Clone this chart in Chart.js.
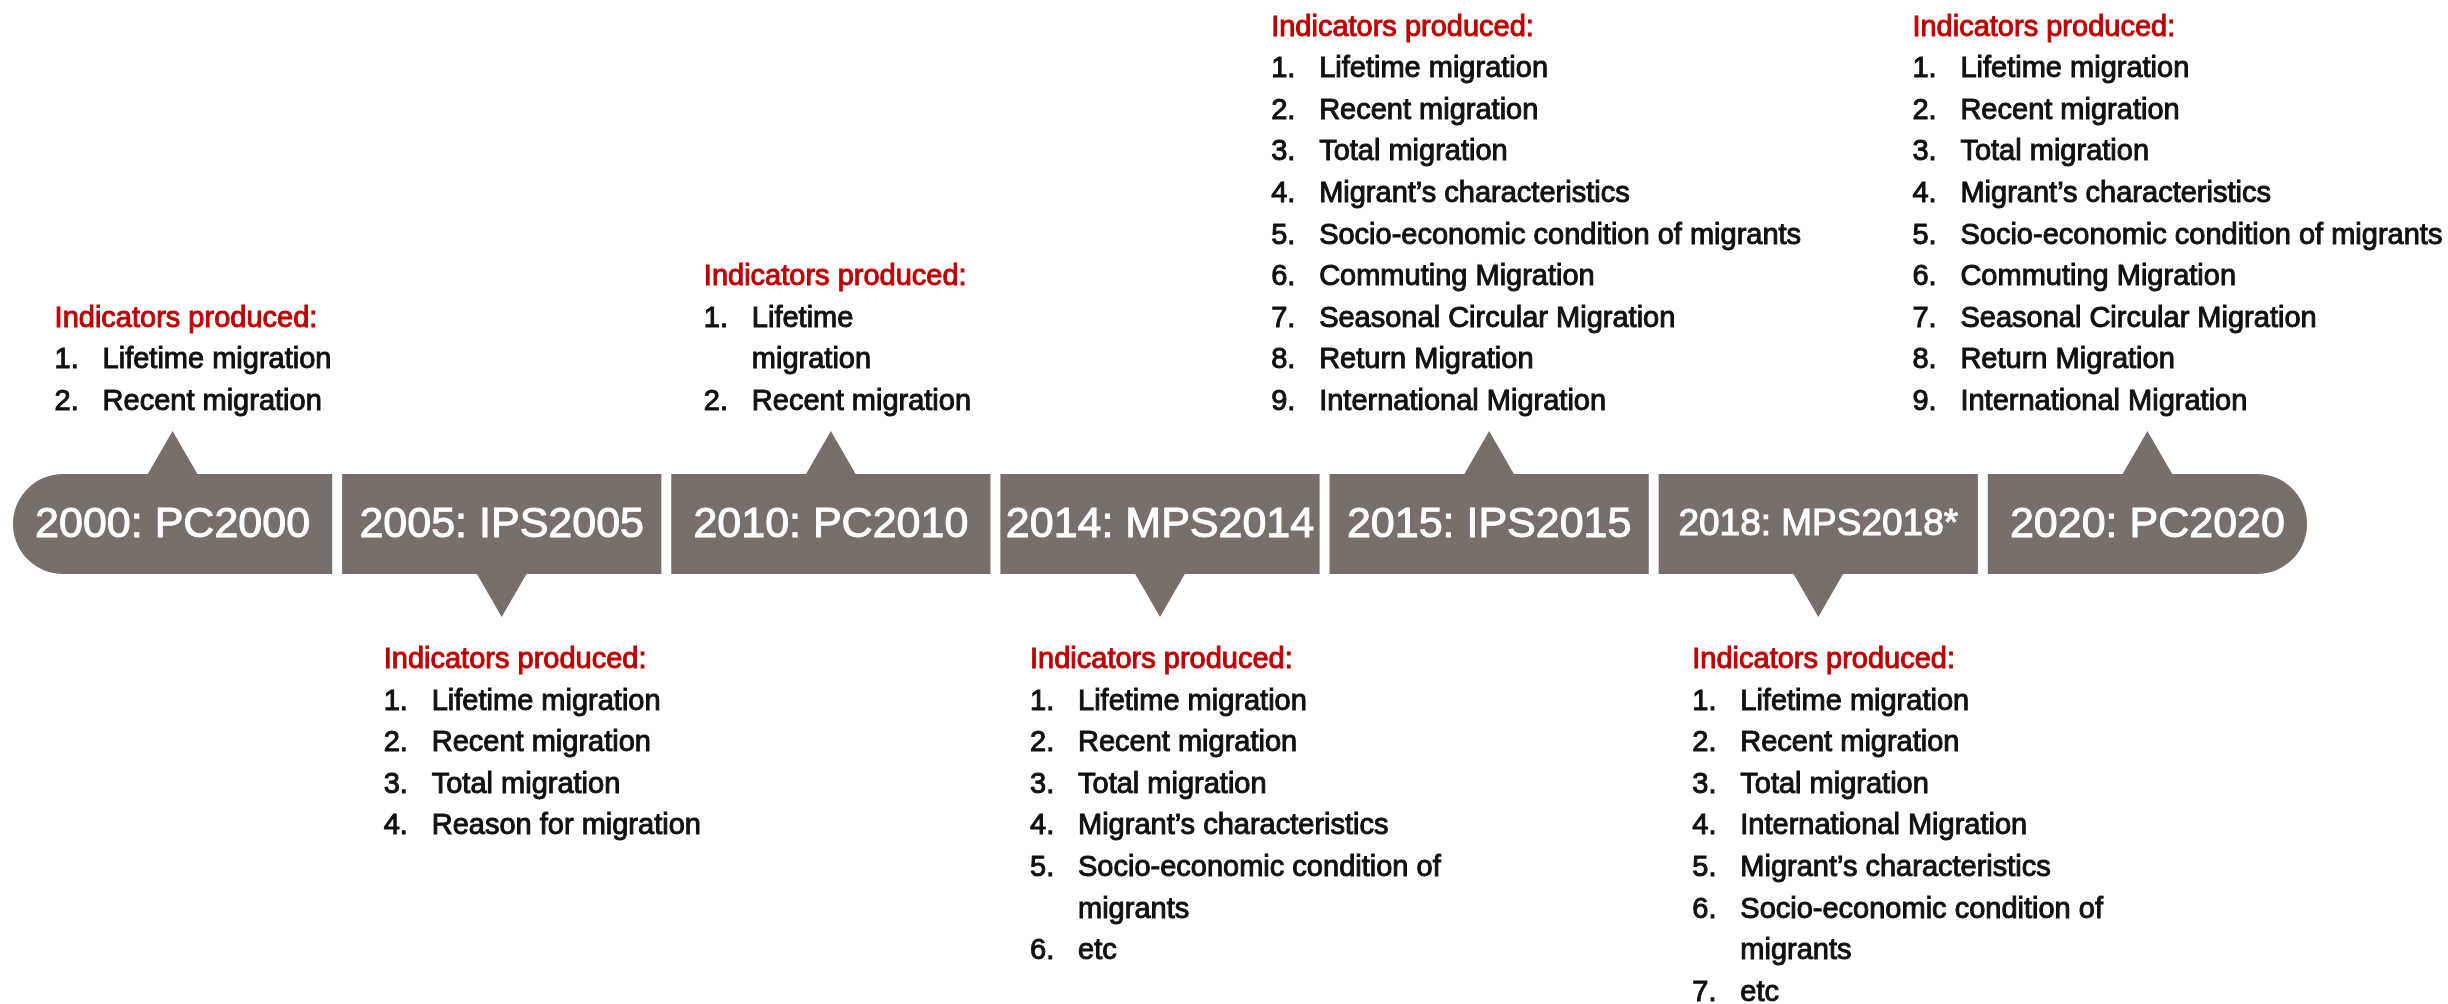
<!DOCTYPE html>
<html>
<head>
<meta charset="UTF-8">
<script src="https://cdn.jsdelivr.net/npm/chart.js@4"></script>
<style>
  html, body { margin: 0; padding: 0; background: #fff; }
  #wrap { width: 2448px; height: 1004px; position: relative; }
</style>
</head>
<body>
<div id="wrap"><canvas id="timeline" width="2448" height="1004"></canvas></div>
<script>
// timeline data
const events = ['2000: PC2000', '2005: IPS2005', '2010: PC2010', '2014: MPS2014', '2015: IPS2015', '2018: MPS2018*', '2020: PC2020'];
const sides = [1, -1, 1, -1, 1, -1, 1]; // 1 = list above the band, -1 = below
const listTitle = 'Indicators produced:';

const ind2000 = ['Lifetime migration', 'Recent migration'];
const ind2005 = ['Lifetime migration', 'Recent migration', 'Total migration', 'Reason for migration'];
const ind2010 = ['Lifetime\nmigration', 'Recent migration'];
const ind2014 = ['Lifetime migration', 'Recent migration', 'Total migration', 'Migrant\u2019s characteristics',
  'Socio-economic condition of\nmigrants', 'etc'];
const ind2015 = ['Lifetime migration', 'Recent migration', 'Total migration', 'Migrant\u2019s characteristics',
  'Socio-economic condition of migrants', 'Commuting Migration', 'Seasonal Circular Migration',
  'Return Migration', 'International Migration'];
const ind2018 = ['Lifetime migration', 'Recent migration', 'Total migration', 'International Migration',
  'Migrant\u2019s characteristics', 'Socio-economic condition of\nmigrants', 'etc'];
const ind2020 = ind2015.slice();
const indicators = [ind2000, ind2005, ind2010, ind2014, ind2015, ind2018, ind2020];

// look
const BAND = '#786f6a';
const RED = '#c00000';
const FONT = '"Liberation Sans", Arial, sans-serif';
const labelSize = [43, 43, 43, 43, 43, 37, 43];
const blockShift = [-118, -118, -127, -130, -218, -126, -235]; // list left edge vs pointer
const LINE = 41.6;

const textPlugin = {
  id: 'timelineText',
  afterDatasetsDraw(chart) {
    const ctx = chart.ctx;
    const bars = chart.getDatasetMeta(0).data;
    ctx.save();
    bars.forEach((bar, i) => {
      const top = Math.min(bar.y, bar.base);
      const bottom = Math.max(bar.y, bar.base);
      // label inside the band
      ctx.font = labelSize[i] + 'px ' + FONT;
      ctx.fillStyle = '#fff';
      ctx.strokeStyle = '#fff';
      ctx.lineWidth = 1;
      ctx.textAlign = 'center';
      ctx.textBaseline = 'middle';
      ctx.fillText(events[i], bar.x, (top + bottom) / 2 + 1);
      ctx.strokeText(events[i], bar.x, (top + bottom) / 2 + 1);

      // indicator list
      const lines = [{ num: null, text: listTitle }];
      indicators[i].forEach((item, k) => {
        item.split('\n').forEach((part, j) => lines.push({ num: j === 0 ? (k + 1) + '.' : '', text: part }));
      });
      const x = bar.x + blockShift[i];
      let y0;
      if (sides[i] > 0) y0 = top - 64 - (lines.length - 1) * LINE;
      else y0 = bottom + 94;
      ctx.font = '29px ' + FONT;
      ctx.textAlign = 'left';
      ctx.textBaseline = 'alphabetic';
      ctx.lineWidth = 1;
      lines.forEach((ln, k) => {
        const y = y0 + k * LINE;
        if (ln.num === null) {
          ctx.fillStyle = RED; ctx.strokeStyle = RED;
          ctx.fillText(ln.text, x, y); ctx.strokeText(ln.text, x, y);
        } else {
          ctx.fillStyle = '#111'; ctx.strokeStyle = '#111';
          if (ln.num) { ctx.fillText(ln.num, x, y); ctx.strokeText(ln.num, x, y); }
          ctx.fillText(ln.text, x + 48, y); ctx.strokeText(ln.text, x + 48, y);
        }
      });
    });
    ctx.restore();
  }
};

const last = events.length - 1;
new Chart(document.getElementById('timeline'), {
  type: 'bar',
  data: {
    labels: events,
    datasets: [
      {
        data: events.map(() => [-1, 1]),
        backgroundColor: BAND,
        categoryPercentage: 1,
        barPercentage: 0.97,
        borderSkipped: false,
        borderRadius: (c) => c.dataIndex === 0 ? { topLeft: 50, bottomLeft: 50, topRight: 0, bottomRight: 0 }
          : c.dataIndex === last ? { topLeft: 0, bottomLeft: 0, topRight: 50, bottomRight: 50 } : 0
      },
      {
        type: 'line',
        data: sides.map(s => s * 1.28),
        showLine: false,
        pointStyle: 'triangle',
        pointRadius: 29,
        pointHoverRadius: 29,
        pointRotation: (c) => sides[c.dataIndex] > 0 ? 0 : 180,
        pointBackgroundColor: BAND,
        pointBorderWidth: 0
      }
    ]
  },
  options: {
    responsive: false,
    animation: false,
    layout: { autoPadding: false, padding: { left: 8, right: 136, top: 0, bottom: 0 } },
    plugins: { legend: { display: false }, tooltip: { enabled: false } },
    scales: {
      x: { display: false, offset: true },
      y: { display: false, min: -9.6, max: 10.48 }
    }
  },
  plugins: [textPlugin]
});
</script>
</body>
</html>
